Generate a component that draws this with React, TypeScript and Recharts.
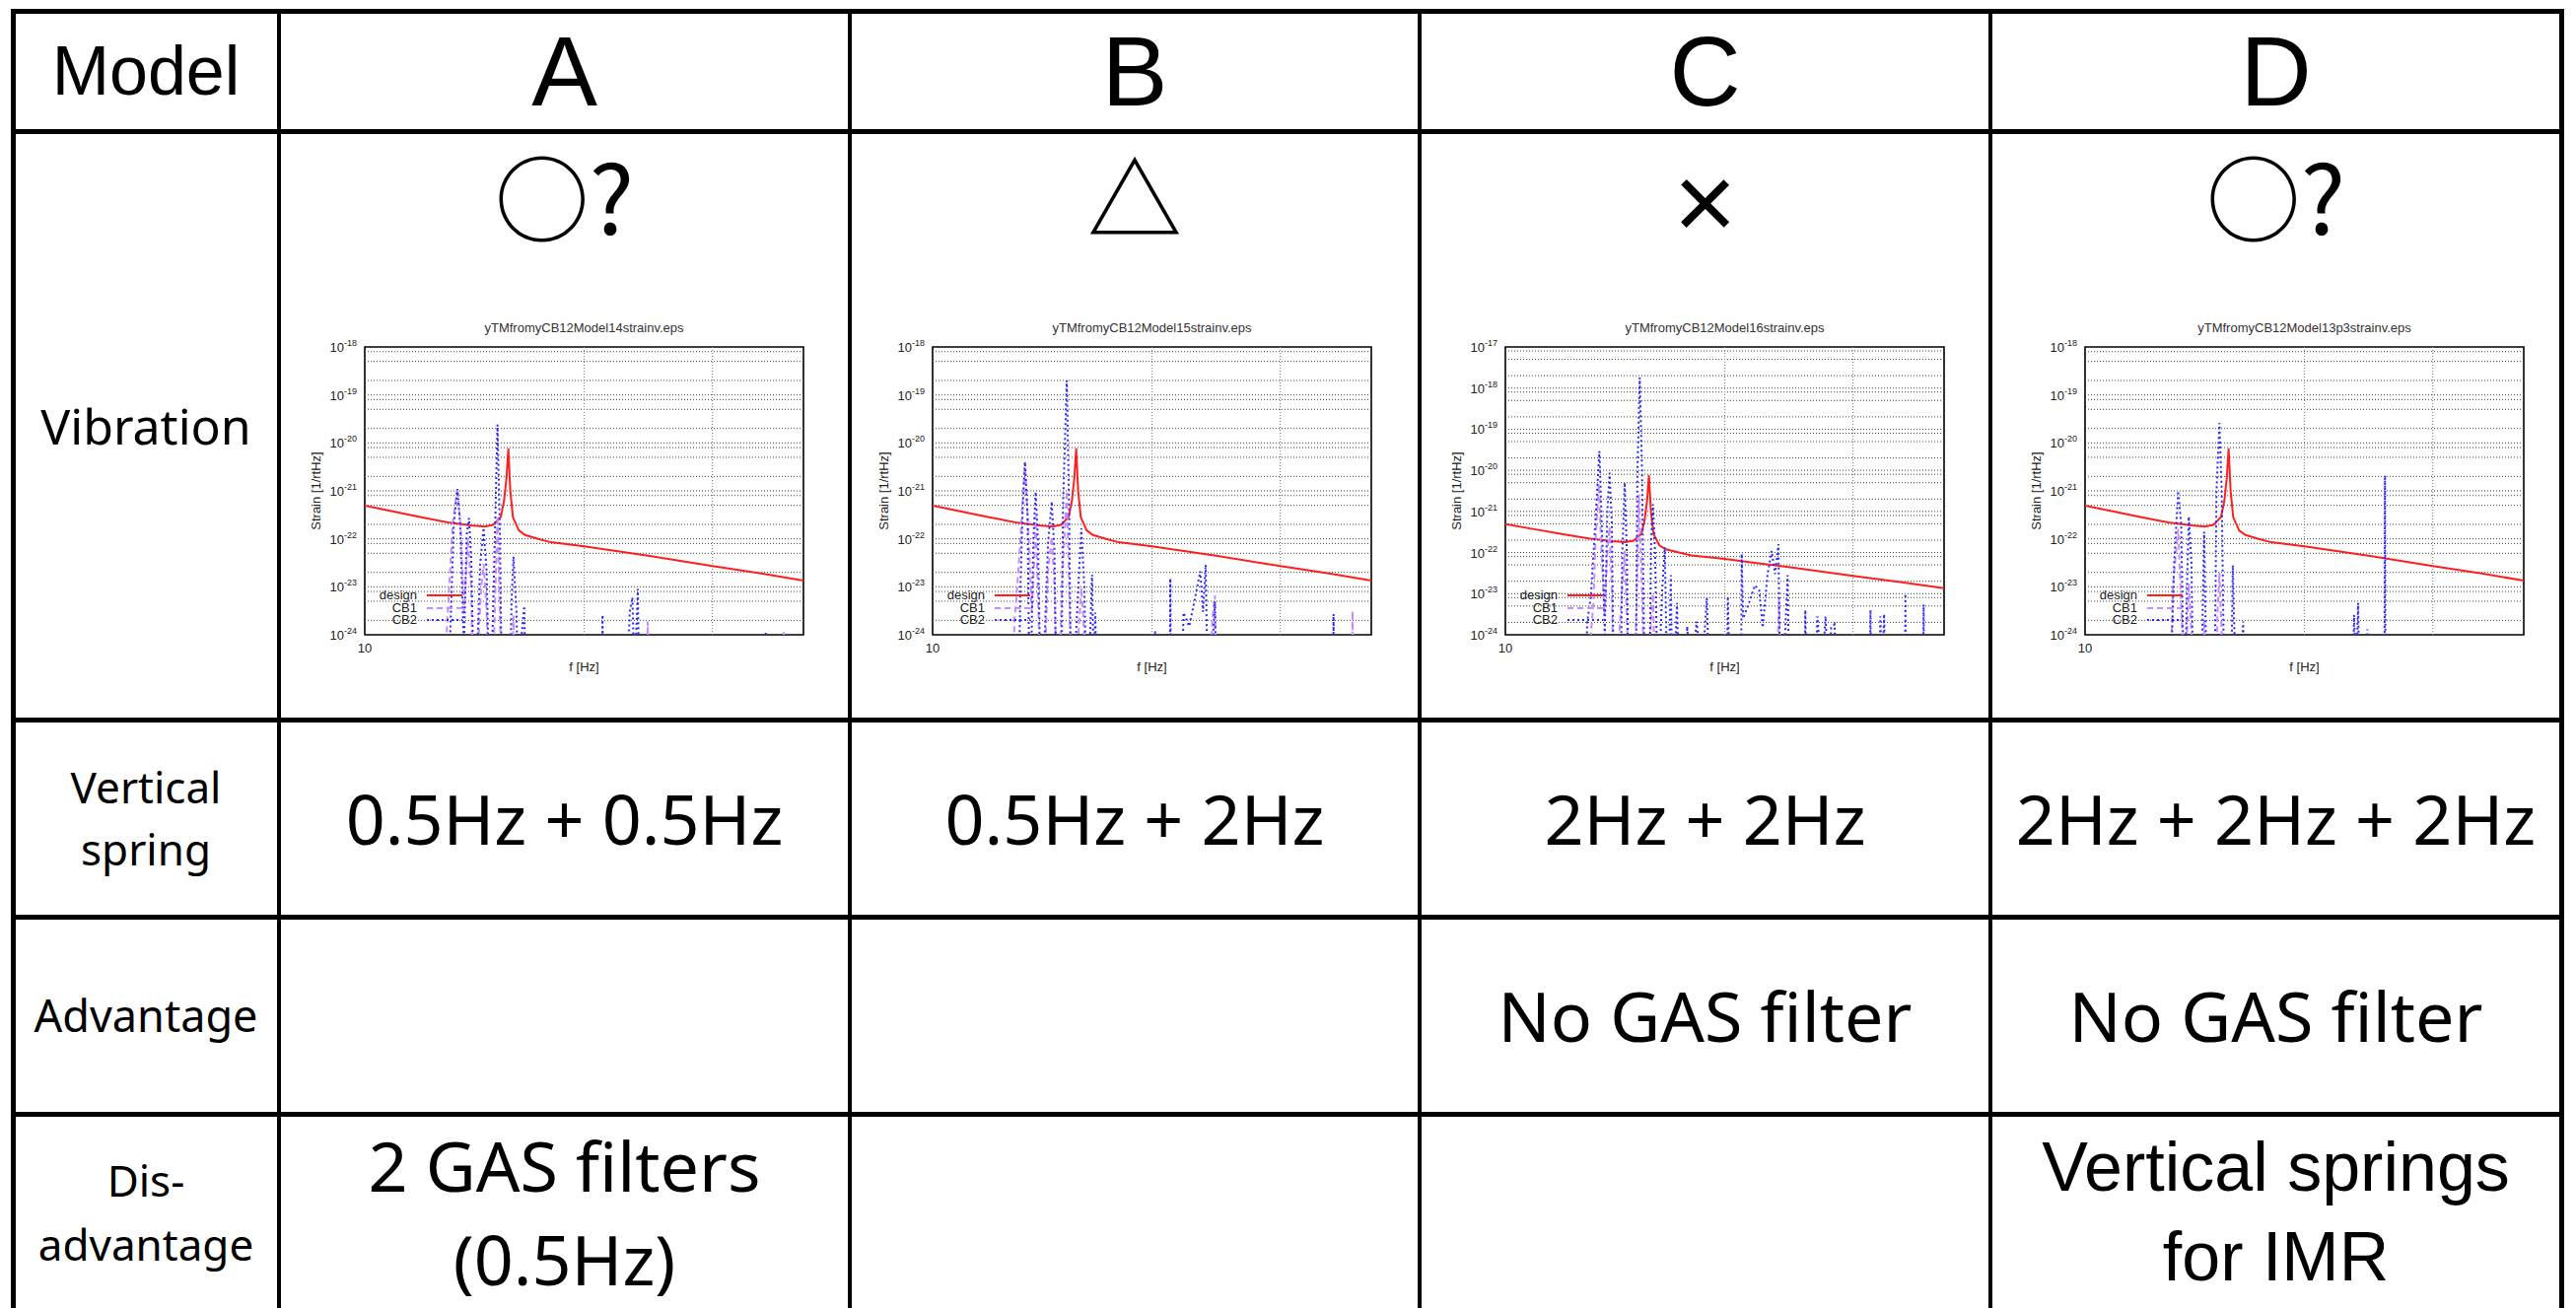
import React from 'react';
import { LineChart, Line, XAxis, YAxis, ReferenceLine, ReferenceArea, Legend } from 'recharts';

type Pt = [number, number];

// deep notches fall well below the 1e-24 floor of the plots
const NOTCH = 1e-26;

// design sensitivity, same curve in all four plots
const designCurve: Pt[] = [
  [10, 4.9e-22], [11, 3.65e-22], [12, 2.8e-22], [13, 2.2e-22], [14, 1.9e-22], [14.6, 1.8e-22],
  [15, 1.95e-22], [15.37, 2.85e-22], [15.53, 6.2e-22], [15.65, 1.85e-21], [15.74, 7.6e-21],
  [15.84, 1e-21], [15.97, 2.85e-22], [16.27, 1.5e-22], [16.6, 1.2e-22], [17.3, 1e-22],
  [18, 8.5e-23], [20, 7e-23], [24.6, 4.4e-23], [30, 2.7e-23], [35, 1.9e-23], [40, 1.35e-23],
];

// Model A (14)
const cb1A: Pt[] = [
  [12.85, NOTCH], [12.95, 1e-24], [13.2, 2e-22], [13.4, 1.15e-21], [13.55, 1.5e-22], [13.68, 3e-24],
  [13.85, 1e-22], [14.0, 1e-23], [14.1, NOTCH], [14.45, 1e-23], [14.56, 3e-23], [14.7, 3e-24],
  [14.85, NOTCH], [15.05, 1e-24], [15.21, 3e-22], [15.35, 1e-24], [15.45, NOTCH], [15.85, NOTCH],
  [16.0, 2.5e-24], [16.1, NOTCH], [24.3, NOTCH], [24.45, 1.9e-24], [24.6, NOTCH],
  [37.5, NOTCH], [37.6, 1.2e-24], [37.7, NOTCH],
];
const cb2A: Pt[] = [
  [12.95, NOTCH], [13.1, 1e-24], [13.25, 2e-22], [13.4, 1.1e-21], [13.52, 2e-22], [13.68, 5e-25],
  [13.8, 1.2e-22], [13.9, 2.7e-22], [14.0, 4e-23], [14.15, NOTCH], [14.4, 3e-23], [14.56, 1.7e-22],
  [14.7, 2e-23], [14.85, NOTCH], [15.0, 3e-24], [15.1, 2e-22], [15.21, 2.4e-20], [15.32, 2e-22],
  [15.45, NOTCH], [15.8, NOTCH], [15.9, 5e-24], [16.0, 4.3e-23], [16.15, 3e-24], [16.3, NOTCH],
  [16.42, 1e-24], [16.55, 4e-24], [16.68, NOTCH], [21.15, NOTCH], [21.2, 2.6e-24], [21.25, NOTCH],
  [22.8, NOTCH], [23.1, 3e-24], [23.3, 6e-24], [23.45, 1e-25], [23.7, 9e-24], [23.85, NOTCH],
  [35.45, NOTCH], [35.5, 1.1e-24], [35.55, NOTCH],
];

// Model B (15)
const cb1B: Pt[] = [
  [12.85, NOTCH], [12.95, 2e-24], [13.03, 5.5e-24], [13.2, 1e-22], [13.39, 4e-21], [13.55, 1e-22],
  [13.68, 3e-24], [13.8, 5e-23], [13.85, 3e-22], [14.0, 1e-24], [14.15, NOTCH], [14.4, 2e-23],
  [14.57, 1.1e-22], [14.7, 1e-23], [14.85, NOTCH], [15.05, 1e-23], [15.28, 1e-21], [15.45, 1e-24],
  [15.6, NOTCH], [15.85, 1e-24], [16.0, 9.5e-24], [16.15, 1e-24], [16.3, NOTCH], [23.9, NOTCH],
  [24.2, 2e-24], [24.4, 6.6e-24], [24.55, NOTCH], [37.55, NOTCH], [37.7, 3.1e-24], [37.85, NOTCH],
];
const cb2B: Pt[] = [
  [13.1, NOTCH], [13.2, 1e-23], [13.3, 5e-22], [13.39, 4e-21], [13.5, 3e-22], [13.6, NOTCH],
  [13.75, 1e-22], [13.85, 9.5e-22], [13.95, 1e-22], [14.1, NOTCH], [14.4, 8e-23], [14.57, 6e-22],
  [14.7, 5e-23], [14.8, NOTCH], [15.0, NOTCH], [15.1, 5e-22], [15.28, 2e-19], [15.4, 3e-22],
  [15.5, NOTCH], [15.85, 1e-23], [16.0, 1.66e-22], [16.15, 1e-23], [16.3, NOTCH], [16.55, 1.8e-23],
  [16.65, 1e-25], [16.72, 2.9e-24], [16.85, NOTCH], [20.15, NOTCH], [20.2, 1.2e-24], [20.25, NOTCH],
  [21.15, NOTCH], [21.2, 1.5e-23], [21.25, NOTCH], [21.9, NOTCH], [22.1, 2.9e-24], [22.5, 1.5e-24],
  [22.9, 5.5e-24], [23.3, 2.1e-23], [23.5, 3e-24], [23.7, 2.9e-23], [23.9, NOTCH], [24.4, 5e-24],
  [24.55, NOTCH], [31.75, NOTCH], [31.8, 1.1e-24], [31.85, NOTCH], [35.45, NOTCH], [35.5, 2.7e-24],
  [35.55, NOTCH],
];

// Model C (16)
const cb1C: Pt[] = [
  [12.9, NOTCH], [13.1, 1e-24], [13.2, 4.8e-24], [13.3, 2e-22], [13.43, 4.6e-21], [13.55, 1e-22],
  [13.68, 3e-24], [13.8, 1e-22], [13.9, 4.2e-22], [14.0, 1e-23], [14.1, NOTCH], [14.45, 1e-23],
  [14.58, 1.1e-22], [14.7, 1e-24], [14.8, NOTCH], [15.1, 1e-24], [15.25, 2.6e-21], [15.4, 1e-23],
  [15.55, NOTCH], [15.8, 1e-24], [15.94, 1e-23], [16.1, NOTCH], [23.5, NOTCH], [23.75, 8e-24],
  [23.9, NOTCH],
];
const cb2C: Pt[] = [
  [12.85, NOTCH], [12.95, 2e-24], [13.1, 8.5e-24], [13.25, 2.3e-22], [13.46, 2.9e-20], [13.6, 1e-22],
  [13.69, 1e-24], [13.8, 1e-21], [13.9, 8.7e-21], [14.0, 5e-22], [14.1, NOTCH], [14.38, NOTCH],
  [14.47, 1e-22], [14.58, 5e-21], [14.68, 1e-22], [14.77, NOTCH], [15.09, NOTCH], [15.18, 1e-20],
  [15.29, 1.8e-18], [15.4, 1e-20], [15.54, NOTCH], [15.75, NOTCH], [15.85, 2e-22], [15.94, 1.5e-21],
  [16.05, 1e-22], [16.2, NOTCH], [16.4, 1e-23], [16.55, 1.35e-22], [16.7, NOTCH], [16.87, 2.8e-23],
  [16.95, NOTCH], [17.2, 5.9e-24], [17.35, NOTCH], [17.7, NOTCH], [17.76, 1.6e-24], [18.0, 1e-25],
  [18.3, 2.1e-24], [18.6, 1e-25], [18.9, 7.8e-24], [19.1, NOTCH], [20.1, NOTCH], [20.2, 8.5e-24],
  [20.35, NOTCH], [21.05, NOTCH], [21.1, 9.3e-23], [21.2, 2.5e-24], [21.6, 6e-24], [22.0, 1.6e-23],
  [22.3, 1.2e-23], [22.55, 1.5e-24], [22.9, 3e-23], [23.2, 1.1e-22], [23.45, 3e-23], [23.7, 1.6e-22],
  [23.85, NOTCH], [24.2, 1e-24], [24.4, 2.8e-23], [24.55, NOTCH], [25.7, NOTCH], [25.8, 4e-24],
  [25.95, NOTCH], [26.6, NOTCH], [26.8, 2.8e-24], [27.2, 1e-25], [27.5, 2.8e-24], [27.75, 1e-25],
  [28.0, 1.5e-24], [28.3, 1.8e-24], [28.5, NOTCH], [31.6, NOTCH], [31.7, 4e-24], [31.8, NOTCH],
  [32.6, NOTCH], [32.7, 2.8e-24], [32.9, 1e-25], [33.1, 3.2e-24], [33.25, NOTCH], [35.35, NOTCH],
  [35.4, 1e-23], [35.45, NOTCH], [37.4, NOTCH], [37.5, 5.4e-24], [37.6, NOTCH],
];

// Model D (13p3)
const cb1D: Pt[] = [
  [13.05, NOTCH], [13.2, 1e-23], [13.42, 1.6e-22], [13.6, 1e-24], [13.7, NOTCH], [13.8, 1e-24],
  [13.88, 1.2e-23], [14.0, 1e-24], [14.1, NOTCH], [14.45, NOTCH], [14.57, 2e-24], [14.7, NOTCH],
  [15.1, NOTCH], [15.2, 3e-24], [15.29, 2e-23], [15.4, 1e-24], [15.5, NOTCH],
];
const cb2D: Pt[] = [
  [13.05, NOTCH], [13.25, 3e-23], [13.42, 1e-21], [13.55, 2e-22], [13.69, NOTCH], [13.8, 1e-23],
  [13.88, 2.9e-22], [14.0, 3e-23], [14.09, NOTCH], [14.4, NOTCH], [14.57, 1.4e-22], [14.72, NOTCH],
  [15.04, NOTCH], [15.15, 1e-21], [15.29, 2.6e-20], [15.4, 1e-21], [15.55, NOTCH], [15.84, NOTCH],
  [15.95, 2.8e-23], [16.15, NOTCH], [16.35, 1e-25], [16.48, 1.9e-24], [16.6, NOTCH], [23.2, NOTCH],
  [23.4, 2.6e-24], [23.55, 1e-25], [23.7, 4.6e-24], [23.85, NOTCH], [24.35, NOTCH], [24.4, 1.3e-24],
  [24.45, NOTCH], [25.75, NOTCH], [25.8, 2.1e-21], [25.85, NOTCH],
];

const cb1Sets = [cb1A, cb1B, cb1C, cb1D];
const cb2Sets = [cb2A, cb2B, cb2C, cb2D];

const modelNames = ['A', 'B', 'C', 'D'];
const vibrationMarks = ['○?', '△', '×', '○?'];
const springRows = ['0.5Hz + 0.5Hz', '0.5Hz + 2Hz', '2Hz + 2Hz', '2Hz + 2Hz + 2Hz'];
const advantageRows = ['', '', 'No GAS filter', 'No GAS filter'];
const disadvantageRows: string[][] = [['2 GAS filters', '(0.5Hz)'], [], [], ['Vertical springs', 'for IMR']];
const plotTitles = [
  'yTMfromyCB12Model14strainv.eps',
  'yTMfromyCB12Model15strainv.eps',
  'yTMfromyCB12Model16strainv.eps',
  'yTMfromyCB12Model13p3strainv.eps',
];
const yTopExponents = [-18, -18, -17, -18];
const xTicks = [10];
const xGridValues = [20, 30];
const yMinorFactors = [2, 5, 8];

// layout
const colEdges = [13, 283, 862, 1440, 2019, 2598];
const rowEdges = [11, 133, 730, 930, 1130, 1330];
const plotLefts = [370, 946, 1527, 2115];
const PLOT_TOP = 352;
const PLOT_W = 445;
const PLOT_H = 292;
const PAD_L = 78;
const PAD_T = 44;
const PAD_R = 12;
const PAD_B = 56;

const plotFont = '"Liberation Sans", Arial, sans-serif';
const bodyFont = '"Noto Sans", sans-serif';
const helv = '"Liberation Sans", Arial, sans-serif';
const cjk = '"Noto Sans CJK JP", sans-serif';

const seriesStyle = [
  { key: 'design', name: 'design', color: '#ff1f1f', dash: undefined as string | undefined, width: 2 },
  { key: 'cb1', name: 'CB1', color: '#c88cff', dash: '6 4', width: 2 },
  { key: 'cb2', name: 'CB2', color: '#2a2aff', dash: '2 3', width: 2 },
];

function buildRows(cb1: Pt[], cb2: Pt[]) {
  const map = new Map<number, any>();
  const put = (pts: Pt[], key: string) =>
    pts.forEach(([f, v]) => {
      const row = map.get(f) || { f };
      row[key] = v;
      map.set(f, row);
    });
  put(designCurve, 'design');
  put(cb1, 'cb1');
  put(cb2, 'cb2');
  return Array.from(map.values()).sort((a, b) => a.f - b.f);
}

const YTick = (props: any) => {
  const { x, y, payload } = props;
  const exp = Math.round(Math.log10(payload.value));
  return (
    <text x={x} y={y + 5} textAnchor="end" fontSize={13} fontFamily={plotFont} fill="#222">
      10<tspan dy={-6} fontSize={9}>{exp}</tspan>
    </text>
  );
};

const XTick = (props: any) => {
  const { x, y, payload } = props;
  return (
    <text x={x} y={y + 12} textAnchor="middle" fontSize={13} fontFamily={plotFont} fill="#222">
      {payload.value}
    </text>
  );
};

const PlotKey = () => (
  <div style={{ fontFamily: plotFont, fontSize: 13, color: '#222' }}>
    {seriesStyle.map(s => (
      <div key={s.key} style={{ display: 'flex', alignItems: 'center', height: 12.5 }}>
        <span style={{ width: 53, textAlign: 'right', lineHeight: '12px' }}>{s.name}</span>
        <svg width={48} height={6}>
          <line x1={10} x2={46} y1={3} y2={3} stroke={s.color} strokeWidth={2} strokeDasharray={s.dash} />
        </svg>
      </div>
    ))}
  </div>
);

function StrainPlot({ col }: { col: number }) {
  const rows = buildRows(cb1Sets[col], cb2Sets[col]);
  const topExp = yTopExponents[col];
  const yMax = Math.pow(10, topExp);
  const decades: number[] = [];
  for (let e = -24; e <= topExp; e++) decades.push(Math.pow(10, e));
  const gridY: number[] = [];
  decades.forEach(d => {
    if (d > 1.01e-24 && d < yMax * 0.99) gridY.push(d);
    yMinorFactors.forEach(k => {
      if (d * k < yMax * 0.99) gridY.push(d * k);
    });
  });
  const left = plotLefts[col];

  return (
    <>
      <div
        style={{
          position: 'absolute', left, top: PLOT_TOP - 27, width: PLOT_W, textAlign: 'center',
          fontFamily: plotFont, fontSize: 13, lineHeight: '16px', color: '#333',
        }}
      >
        {plotTitles[col]}
      </div>
      <div
        style={{
          position: 'absolute', left: left - 50, top: PLOT_TOP + PLOT_H / 2,
          transform: 'translate(-50%, -50%) rotate(-90deg)', whiteSpace: 'nowrap',
          fontFamily: plotFont, fontSize: 13, color: '#222',
        }}
      >
        Strain [1/rtHz]
      </div>
      <div style={{ position: 'absolute', left: left - PAD_L, top: PLOT_TOP - PAD_T }}>
        <LineChart
          width={PAD_L + PLOT_W + PAD_R}
          height={PAD_T + PLOT_H + PAD_B}
          data={rows}
          margin={{ top: PAD_T, right: PAD_R, bottom: 0, left: 0 }}
        >
          <XAxis
            dataKey="f" type="number" scale="log" domain={[10, 40]} allowDataOverflow
            ticks={xTicks} tick={XTick} tickLine={false} axisLine={false} tickSize={0} tickMargin={6}
            height={PAD_B}
            label={{ value: 'f [Hz]', position: 'insideBottom', offset: 19, fontSize: 13, fontFamily: plotFont, fill: '#222' }}
          />
          <YAxis
            type="number" scale="log" domain={[1e-24, yMax]} allowDataOverflow
            ticks={decades} tick={YTick} tickLine={false} axisLine={false} tickSize={0} tickMargin={8}
            width={PAD_L}
          />
          {gridY.map(v => (
            <ReferenceLine key={'y' + v} y={v} stroke="#444" strokeWidth={1} strokeDasharray="1 2" />
          ))}
          {xGridValues.map(v => (
            <ReferenceLine key={'x' + v} x={v} stroke="#888" strokeWidth={1.2} strokeDasharray="1 2" />
          ))}
          {seriesStyle.map(s => (
            <Line
              key={s.key} dataKey={s.key} name={s.name} type="linear" stroke={s.color}
              strokeWidth={s.width} strokeDasharray={s.dash} dot={false} activeDot={false}
              connectNulls isAnimationActive={false}
            />
          ))}
          <ReferenceArea
            x1={10} x2={40} y1={1e-24} y2={yMax} fill="none" fillOpacity={0}
            stroke="#000" strokeWidth={1.6}
          />
          <Legend
            layout="horizontal" verticalAlign="middle" align="center"
            wrapperStyle={{ left: PAD_L, top: PAD_T + PLOT_H - 46, width: 110, height: 40 }}
            content={() => <PlotKey />}
          />
        </LineChart>
      </div>
    </>
  );
}

const CellText = ({
  col, top, bottom, lines, size, lineHeight, font,
}: {
  col: number; top: number; bottom: number; lines: string[]; size: number; lineHeight: number; font?: string;
}) => (
  <div
    style={{
      position: 'absolute', left: colEdges[col], top, width: colEdges[col + 1] - colEdges[col],
      height: bottom - top, display: 'flex', flexDirection: 'column', alignItems: 'center',
      justifyContent: 'center', fontFamily: font || bodyFont, fontSize: size, lineHeight: lineHeight + 'px',
      whiteSpace: 'nowrap',
    }}
  >
    {lines.map((t, i) => (
      <div key={i}>{t}</div>
    ))}
  </div>
);

export default function App() {
  return (
    <div
      style={{
        position: 'absolute', left: 0, top: 0, width: 2613, height: 1327, background: '#fff',
        overflow: 'hidden', color: '#000',
      }}
    >
      {/* header row */}
      <CellText col={0} top={rowEdges[0]} bottom={rowEdges[1]} lines={['Model']} size={70} lineHeight={80} font={helv} />
      {modelNames.map((m, i) => (
        <CellText key={m} col={i + 1} top={rowEdges[0]} bottom={rowEdges[1]} lines={[m]} size={100} lineHeight={110} font={helv} />
      ))}

      {/* vibration row */}
      <CellText col={0} top={rowEdges[1]} bottom={rowEdges[2]} lines={['Vibration']} size={50} lineHeight={60} />
      {vibrationMarks.map((m, i) => (
        <CellText
          key={i} col={i + 1} top={m === '×' ? 143 : 135} bottom={m === '×' ? 267 : 259} lines={[m]}
          size={m === '×' ? 110 : 96} lineHeight={110} font={m === '×' ? helv : cjk}
        />
      ))}
      {modelNames.map((m, i) => (
        <StrainPlot key={'p' + m} col={i} />
      ))}

      {/* vertical spring row */}
      <CellText col={0} top={rowEdges[2]} bottom={rowEdges[3]} lines={['Vertical', 'spring']} size={44} lineHeight={63} />
      {springRows.map((t, i) => (
        <CellText key={i} col={i + 1} top={rowEdges[2]} bottom={rowEdges[3]} lines={[t]} size={70} lineHeight={80} />
      ))}

      {/* advantage row */}
      <CellText col={0} top={rowEdges[3]} bottom={rowEdges[4]} lines={['Advantage']} size={45} lineHeight={60} />
      {advantageRows.map((t, i) => (
        <CellText key={i} col={i + 1} top={rowEdges[3]} bottom={rowEdges[4]} lines={t ? [t] : []} size={70} lineHeight={80} />
      ))}

      {/* disadvantage row */}
      <CellText col={0} top={rowEdges[4]} bottom={rowEdges[5]} lines={['Dis-', 'advantage']} size={44} lineHeight={65} />
      {disadvantageRows.map((t, i) => (
        <CellText
          key={i} col={i + 1} top={rowEdges[4]} bottom={rowEdges[5]} lines={t}
          size={70} lineHeight={i === 3 ? 91 : 95} font={i === 3 ? helv : undefined}
        />
      ))}

      {/* grid lines */}
      {colEdges.map((x, i) => {
        const w = i === 0 || i === colEdges.length - 1 ? 5 : 4;
        return (
          <div key={'v' + i} style={{ position: 'absolute', left: x - w / 2, top: 9, width: w, height: 1330, background: '#000' }} />
        );
      })}
      {rowEdges.slice(0, 5).map((y, i) => (
        <div key={'h' + i} style={{ position: 'absolute', left: 11, top: y - 2.5, width: 2590, height: 5, background: '#000' }} />
      ))}
    </div>
  );
}
